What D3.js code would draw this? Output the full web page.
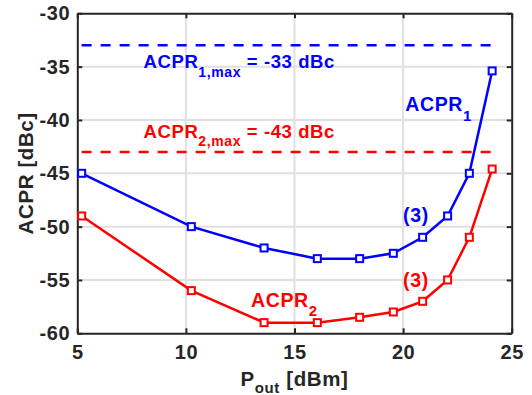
<!DOCTYPE html>
<html>
<head>
<meta charset="utf-8">
<script src="https://cdn.jsdelivr.net/npm/d3@7"></script>
<style>
  body { margin:0; background:#fff; }
  text { font-family:"Liberation Sans", Arial, sans-serif; font-weight:bold; letter-spacing:0.6px; }
</style>
</head>
<body>
<svg id="svg" width="532" height="395"></svg>
<script>
// values
var pout   = [5.2, 10.25, 13.6, 16.05, 18.0, 19.55, 20.9, 22.05, 23.05, 24.1];
var acpr1  = [-45, -50, -52, -53, -53, -52.5, -51, -49, -45, -35.4];
var acpr2  = [-49, -56, -59, -59, -58.5, -58, -57, -55, -51, -44.6];
var limits = [-33, -43];
var xTicks = [5, 10, 15, 20, 25];
var yTicks = [-30, -35, -40, -45, -50, -55, -60];

var svg = d3.select("#svg");

var blue = "#0000ff",
    red  = "#ff0000",
    grid = "#e0e0e0",
    ax   = "#262626";

var L = 77.3, R = 511.7, T = 13.3, B = 333.3;

var x = d3.scaleLinear().domain([5, 25]).range([L, R]),
    y = d3.scaleLinear().domain([-60, -30]).range([B, T]);

// grid
svg.append("g").selectAll("line").data(xTicks.slice(1, -1)).enter()
    .append("line")
    .attr("x1", d => x(d)).attr("x2", d => x(d))
    .attr("y1", T).attr("y2", B)
    .attr("stroke", grid).attr("stroke-width", 2);
svg.append("g").selectAll("line").data(yTicks.slice(1, -1)).enter()
    .append("line")
    .attr("y1", d => y(d)).attr("y2", d => y(d))
    .attr("x1", L).attr("x2", R)
    .attr("stroke", grid).attr("stroke-width", 2);

// axes (ticks inward, box on), plain hyphen for minus like the original
var fmt = d => String(d);
function styleAxis(g) {
    g.selectAll("path").attr("stroke", ax).attr("stroke-width", 2);
    g.selectAll("line").attr("stroke", ax).attr("stroke-width", 2);
    g.selectAll("text").attr("fill", ax).style("font-size", "20px")
        .style("font-weight", "bold").style("font-family", "'Liberation Sans', Arial, sans-serif");
}
svg.append("g").attr("transform", "translate(0," + B + ")")
    .call(d3.axisBottom(x).tickValues(xTicks).tickFormat(fmt).tickSizeInner(-5).tickSizeOuter(0).tickPadding(12))
    .call(styleAxis);
svg.append("g").attr("transform", "translate(0," + T + ")")
    .call(d3.axisTop(x).tickValues(xTicks).tickSizeInner(-5).tickSizeOuter(0).tickFormat(""))
    .call(styleAxis);
svg.append("g").attr("transform", "translate(" + L + ",0)")
    .call(d3.axisLeft(y).tickValues(yTicks).tickFormat(fmt).tickSizeInner(-5).tickSizeOuter(0).tickPadding(7))
    .call(styleAxis);
svg.append("g").attr("transform", "translate(" + R + ",0)")
    .call(d3.axisRight(y).tickValues(yTicks).tickSizeInner(-5).tickSizeOuter(0).tickFormat(""))
    .call(styleAxis);

// limit lines
svg.append("g").selectAll("line").data(limits).enter()
    .append("line")
    .attr("x1", x(d3.min(pout))).attr("x2", x(d3.max(pout)))
    .attr("y1", d => y(d)).attr("y2", d => y(d))
    .attr("stroke", (_, i) => [blue, red][i]).attr("stroke-width", 2.5)
    .attr("stroke-dasharray", "10,9");

// series
var series = [acpr1, acpr2];
var line = d3.line().x((d, i) => x(pout[i])).y(d => y(d));

var sg = svg.selectAll(".s").data(series).enter().append("g")
    .attr("fill", "none").attr("stroke", (_, i) => [blue, red][i]);
sg.append("path").attr("d", line).attr("stroke-width", 2.5);
sg.selectAll("rect").data(d => d.map((v, i) => [pout[i], v])).enter()
    .append("rect")
    .attr("x", d => x(d[0]) - 3.5).attr("y", d => y(d[1]) - 3.5)
    .attr("width", 7).attr("height", 7)
    .attr("fill", "#fff").attr("stroke-width", 2);

// text with subscripts
function sub(g, px, py, col, size, main, s, ssize, rest, dy) {
    var t = g.append("text").attr("x", px).attr("y", py).attr("fill", col)
        .style("font-size", size + "px");
    t.append("tspan").text(main);
    t.append("tspan").attr("dy", dy).style("font-size", ssize + "px").text(s);
    if (rest) t.append("tspan").attr("dy", -dy).text(rest);
    return t;
}

sub(svg, x(8.05), y(-35.15), blue, 18.5, "ACPR", "1,max", 14, " = -33 dBc", 8.5);
sub(svg, x(8.05), y(-41.65), red,  18.5, "ACPR", "2,max", 14, " = -43 dBc", 8.5);
sub(svg, x(20.1), y(-39.2), blue, 19.5, "ACPR", "1", 15, null, 10);
sub(svg, x(13.0), y(-57.55), red,  19.5, "ACPR", "2", 15, null, 9);

svg.append("text").attr("x", x(20.0)).attr("y", y(-49.6)).attr("fill", blue)
    .style("font-size", "19.5px").text("(3)");
svg.append("text").attr("x", x(20.0)).attr("y", y(-55.7)).attr("fill", red)
    .style("font-size", "19.5px").text("(3)");

// axis titles
svg.append("text").attr("transform", "translate(33," + (T + B) / 2 + ") rotate(-90)")
    .attr("text-anchor", "middle").attr("fill", ax).style("font-size", "20.5px")
    .text("ACPR [dBc]");

var xl = svg.append("text").attr("x", (L + R) / 2).attr("y", 386)
    .attr("text-anchor", "middle").attr("fill", ax).style("font-size", "20.5px");
xl.append("tspan").text("P");
xl.append("tspan").attr("dy", 7).style("font-size", "15px").text("out");
xl.append("tspan").attr("dy", -7).text(" [dBm]");
</script>
</body>
</html>
